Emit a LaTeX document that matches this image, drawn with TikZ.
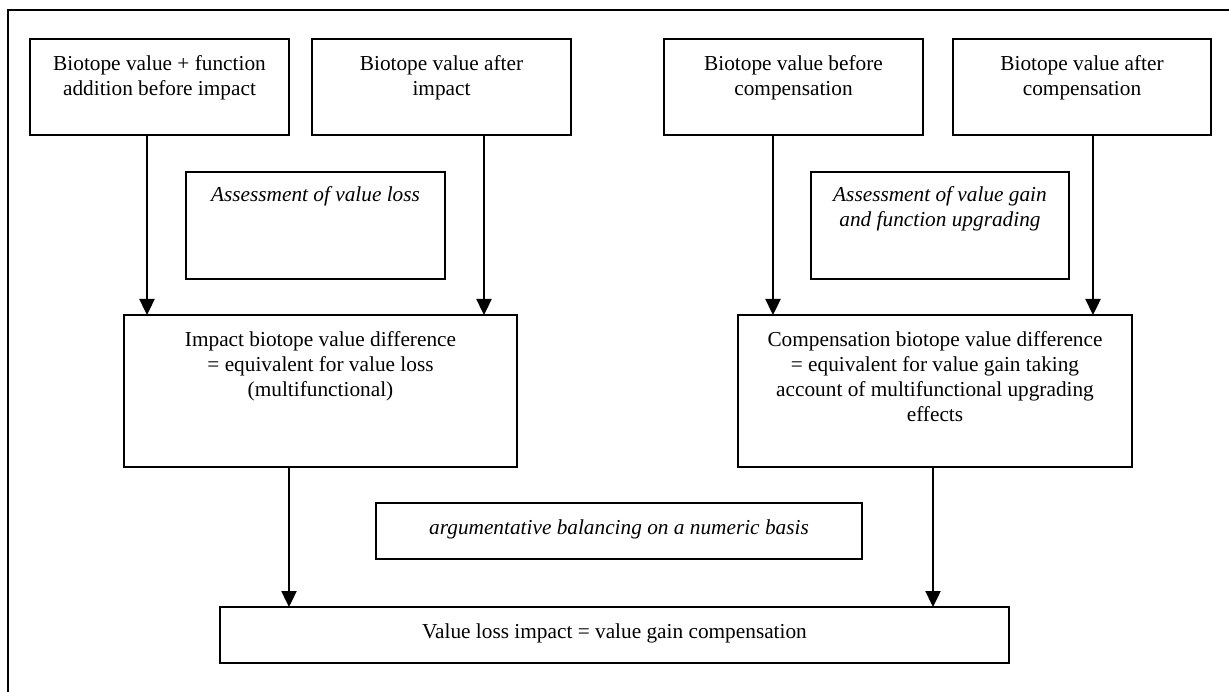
\documentclass[tikz,border=0pt]{standalone}
\usepackage{fontspec}
\setmainfont{Liberation Serif}
\usetikzlibrary{arrows.meta}

\tikzset{
  box/.style={draw, line width=1.6pt, inner sep=0pt, outer sep=0pt, anchor=north west},
  txt/.style={inner sep=0pt, outer sep=0pt, align=center, anchor=north,
    font=\fontsize{21.3}{24.9}\selectfont},
  itx/.style={txt, font=\fontsize{21.3}{24.9}\selectfont\itshape},
  arr/.style={line width=2.4pt, -{Triangle[length=16pt,width=15pt]}},
  frame/.style={line width=1.7pt}
}

\begin{document}
\begin{tikzpicture}[x=1pt, y=-1pt]
\useasboundingbox (0,0) rectangle (1229,692);

% outer frame (only its left and top edges fall inside the page)
\coordinate (fr) at (8,10);
\draw[frame] (fr |- 0,692) -- (fr) -- (1229,10);

% top row of input boxes
\node[box, minimum width=259pt, minimum height=96pt] (b1) at (30,39) {};
\node[box, minimum width=259pt, minimum height=96pt] (b2) at (312,39) {};
\node[box, minimum width=259pt, minimum height=96pt] (b3) at (664,39) {};
\node[box, minimum width=258pt, minimum height=96pt] (b4) at (953,39) {};
\node[txt] (b1t) at ([yshift=-16.5pt]b1.north) {Biotope value + function\\addition before impact};
\node[txt] (b2t) at ([yshift=-16.5pt]b2.north) {Biotope value after\\impact};
\node[txt] (b3t) at ([yshift=-16.5pt]b3.north) {Biotope value before\\compensation};
\node[txt] (b4t) at ([yshift=-16.5pt]b4.north) {Biotope value after\\compensation};

% assessment boxes
\node[box, minimum width=259pt, minimum height=107pt] (a1) at (186,172) {};
\node[box, minimum width=258pt, minimum height=107pt] (a2) at (811,172) {};
\node[itx] (a1t) at ([yshift=-15pt]a1.north) {Assessment of value loss};
\node[itx] (a2t) at ([yshift=-15pt]a2.north) {Assessment of value gain\\and function upgrading};

% value difference boxes
\node[box, minimum width=393pt, minimum height=152pt] (imp) at (124,315) {};
\node[box, minimum width=394pt, minimum height=152pt] (cmp) at (738,315) {};
\node[txt] (impt) at ([yshift=-16.5pt]imp.north) {Impact biotope value difference\\= equivalent for value loss\\(multifunctional)};
\node[txt] (cmpt) at ([yshift=-16.5pt]cmp.north) {Compensation biotope value difference\\= equivalent for value gain taking\\account of multifunctional upgrading\\effects};

% balancing note
\node[box, minimum width=486pt, minimum height=56pt] (bal) at (376,503) {};
\node[itx] (balt) at ([yshift=-17pt]bal.north) {argumentative balancing on a numeric basis};

% result box
\node[box, minimum width=789pt, minimum height=56pt] (res) at (220,607) {};
\node[txt] (rest) at ([yshift=-16.5pt]res.north) {Value loss impact = value gain compensation};

% arrow columns
\coordinate (x1) at (147,0);
\coordinate (x2) at (484,0);
\coordinate (x3) at (773,0);
\coordinate (x4) at (1093,0);
\coordinate (x5) at (289,0);
\coordinate (x6) at (933,0);

\draw[arr] (b1.south -| x1) -- (imp.north -| x1);
\draw[arr] (b2.south -| x2) -- (imp.north -| x2);
\draw[arr] (b3.south -| x3) -- (cmp.north -| x3);
\draw[arr] (b4.south -| x4) -- (cmp.north -| x4);
\draw[arr] (imp.south -| x5) -- (res.north -| x5);
\draw[arr] (cmp.south -| x6) -- (res.north -| x6);
\end{tikzpicture}
\end{document}
